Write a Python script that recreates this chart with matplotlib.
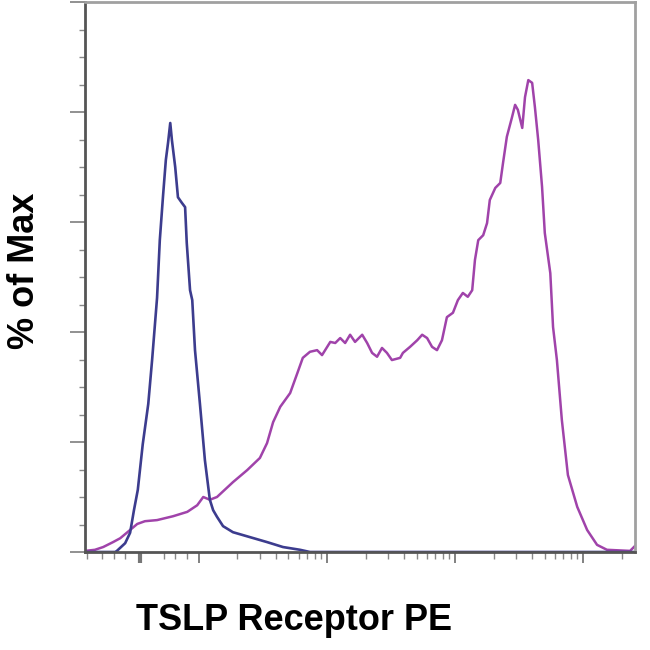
import numpy as np
import matplotlib.pyplot as plt
from matplotlib.ticker import FixedLocator, MultipleLocator, NullFormatter

# x in display channels (0-1000), y in % of max
control_ch = [0, 27, 55, 58, 73, 82, 89, 96, 105, 115,
              122, 131, 136, 142, 147, 151, 155, 158, 164, 169,
              176, 182, 185, 191, 195, 200, 209, 218, 227, 233,
              240, 251, 269, 300, 331, 360, 391, 409, 445, 1000]
control_pct = [0, 0, 0, 0.2, 1.6, 3.5, 7.6, 11.3, 19.6, 26.9,
               34.9, 46.2, 56.7, 64.9, 71.3, 74.4, 78.0, 74.9, 70.0, 64.5,
               63.5, 62.7, 56.2, 47.6, 45.8, 36.7, 26.9, 16.7, 9.5, 7.6,
               6.4, 4.7, 3.6, 2.7, 1.8, 0.9, 0.4, 0, 0, 0]

stained_ch = [0, 18, 33, 51, 64, 76, 95, 109, 131, 160,
              186, 204, 215, 227, 240, 269, 295, 318, 331, 342,
              355, 373, 386, 396, 409, 422, 431, 446, 455, 464,
              473, 482, 491, 504, 513, 522, 531, 540, 549, 558,
              573, 578, 591, 604, 613, 622, 631, 640, 649, 658,
              669, 678, 687, 696, 704, 709, 715, 724, 731, 736,
              746, 755, 760, 767, 776, 782, 787, 795, 800, 806,
              813, 818, 824, 831, 836, 846, 851, 858, 867, 878,
              895, 913, 931, 949, 991, 1000]
stained_pct = [0.2, 0.4, 0.9, 1.8, 2.5, 3.5, 5.1, 5.6, 5.8, 6.5,
               7.3, 8.5, 10.0, 9.5, 10.0, 12.7, 14.9, 17.1, 19.8, 23.6,
               26.4, 28.9, 32.5, 35.3, 36.4, 36.7, 35.8, 38.2, 38.0, 38.9,
               38.0, 39.5, 38.2, 39.5, 38.0, 36.2, 35.5, 37.1, 36.2, 34.9,
               35.3, 36.2, 37.3, 38.5, 39.5, 38.9, 37.3, 36.7, 38.5, 42.7,
               43.5, 45.8, 47.1, 46.4, 47.6, 53.1, 56.7, 57.6, 59.8, 64.0,
               66.2, 67.1, 70.7, 75.5, 78.9, 81.3, 80.4, 77.1, 82.7, 85.8,
               85.3, 80.9, 74.9, 66.4, 58.0, 50.7, 40.9, 34.9, 24.0, 14.0,
               8.2, 4.0, 1.3, 0.4, 0.2, 1.1]

major_vals = [0, 1e2, 1e3, 1e4, 1e5]
minor_vals = [-90, -65, -45, -25, 40, 60, 80] + \
    [m * 10 ** d for d in (2, 3, 4) for m in range(2, 10)] + [2e5]


def to_channel(v):
    # biexponential-like display: linear near zero, log above 100
    if abs(v) < 100:
        return 100 + v * 1.07
    return 207 + 233 * (np.log10(v) - 2)


fig = plt.figure(figsize=(6.5, 6.5), dpi=100)
ax = fig.add_axes([85 / 650, 1 - 552 / 650, 550 / 650, 550 / 650])

ax.plot(stained_ch, stained_pct, color='#a043aa', lw=1.8)
ax.plot(control_ch, control_pct, color='#3c3c8e', lw=1.9)

ax.set_xlim(0, 1000)
ax.set_ylim(0, 100)

for side in ['left', 'bottom']:
    ax.spines[side].set_color('#555555')
    ax.spines[side].set_linewidth(2.0)
for side in ['top', 'right']:
    ax.spines[side].set_color('#a0a0a0')
    ax.spines[side].set_linewidth(2.0)

ax.xaxis.set_major_locator(FixedLocator([to_channel(v) for v in major_vals]))
ax.xaxis.set_minor_locator(FixedLocator([to_channel(v) for v in minor_vals]))
ax.xaxis.set_major_formatter(NullFormatter())
ax.yaxis.set_major_locator(MultipleLocator(20))
ax.yaxis.set_minor_locator(MultipleLocator(5))
ax.yaxis.set_major_formatter(NullFormatter())

ax.tick_params(axis='x', which='major', length=8, width=1.3, color='#777777')
ax.tick_params(axis='x', which='minor', length=5, width=1.0, color='#888888')
ax.tick_params(axis='y', which='major', length=11, width=1.3, color='#888888')
ax.tick_params(axis='y', which='minor', length=4, width=1.0, color='#888888')

zero_tick = ax.xaxis.get_major_ticks()[0]
zero_tick.tick1line.set_color('black')
zero_tick.tick1line.set_markeredgewidth(3)

fig.text(294 / 650, 1 - 620 / 650, 'TSLP Receptor PE', ha='center', va='center',
         fontsize=26, fontweight='bold', family=['Liberation Sans', 'DejaVu Sans'])
fig.text(25 / 650, 1 - 271 / 650, '% of Max', ha='center', va='center', rotation=90,
         fontsize=26, fontweight='bold', family=['Liberation Sans', 'DejaVu Sans'])

fig.savefig('out.png', dpi=100, facecolor='white')
